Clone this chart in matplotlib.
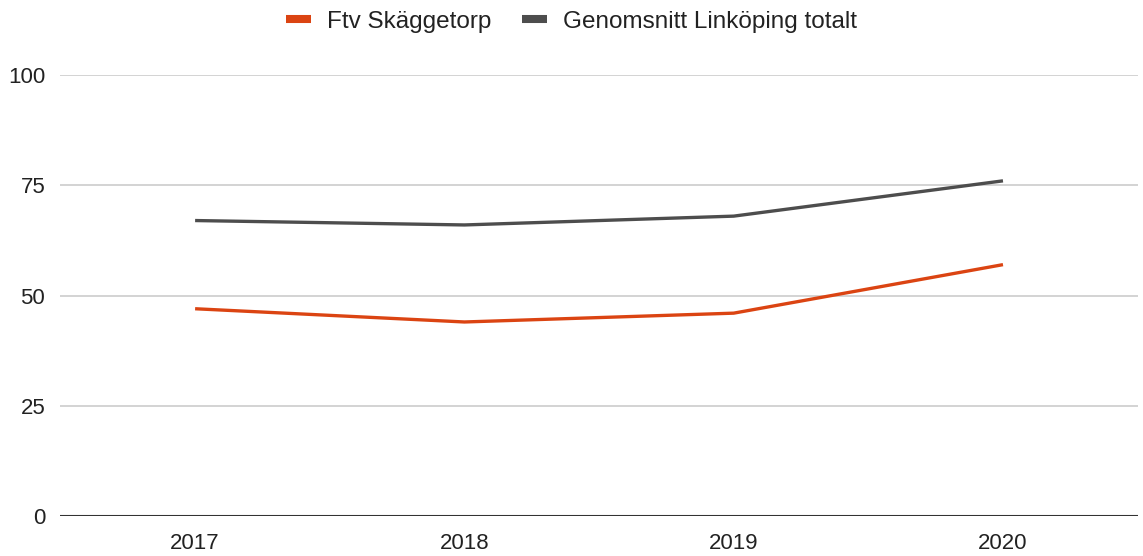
import matplotlib.pyplot as plt
from matplotlib.lines import Line2D

plt.rcParams['font.family'] = ['Liberation Sans', 'DejaVu Sans']

years = ['2017', '2018', '2019', '2020']
skaggetorp = [47, 44, 46, 57]
linkoping = [67, 66, 68, 76]

orange = '#db4412'
gray = '#4d4d4d'

fig = plt.figure(figsize=(11.43, 5.56), dpi=100)
ax = fig.add_axes([0.0529, 0.0719, 0.9424, 0.7932])

x = range(len(years))
ax.plot(x, skaggetorp, color=orange, lw=2.4, solid_capstyle='butt', zorder=3)
ax.plot(x, linkoping, color=gray, lw=2.4, solid_capstyle='butt', zorder=3)

ax.set_xlim(-0.5, 3.5)
ax.set_ylim(0, 100)
ax.set_yticks([0, 25, 50, 75, 100])
ax.set_xticks(list(x))
ax.set_xticklabels(years)
ax.grid(axis='y', color='#cccccc', lw=1.2)
ax.set_axisbelow(True)
ax.axhline(0, color='#333333', lw=1.5, zorder=2)
for s in ax.spines.values():
    s.set_visible(False)
ax.tick_params(length=0, labelsize=16, colors='#222222')
ax.tick_params(axis='y', pad=11)
ax.tick_params(axis='x', pad=12)

handles = [Line2D([], [], color=orange, lw=5.8, solid_capstyle='butt'),
           Line2D([], [], color=gray, lw=5.8, solid_capstyle='butt')]
fig.legend(handles, ['Ftv Skäggetorp', 'Genomsnitt Linköping totalt'],
           loc='center', bbox_to_anchor=(0.5, 0.961), ncol=2, frameon=False,
           fontsize=17.5, handlelength=1.0, handletextpad=0.65, columnspacing=1.3,
           labelcolor='#222222')

fig.savefig('out.png', dpi=100)
